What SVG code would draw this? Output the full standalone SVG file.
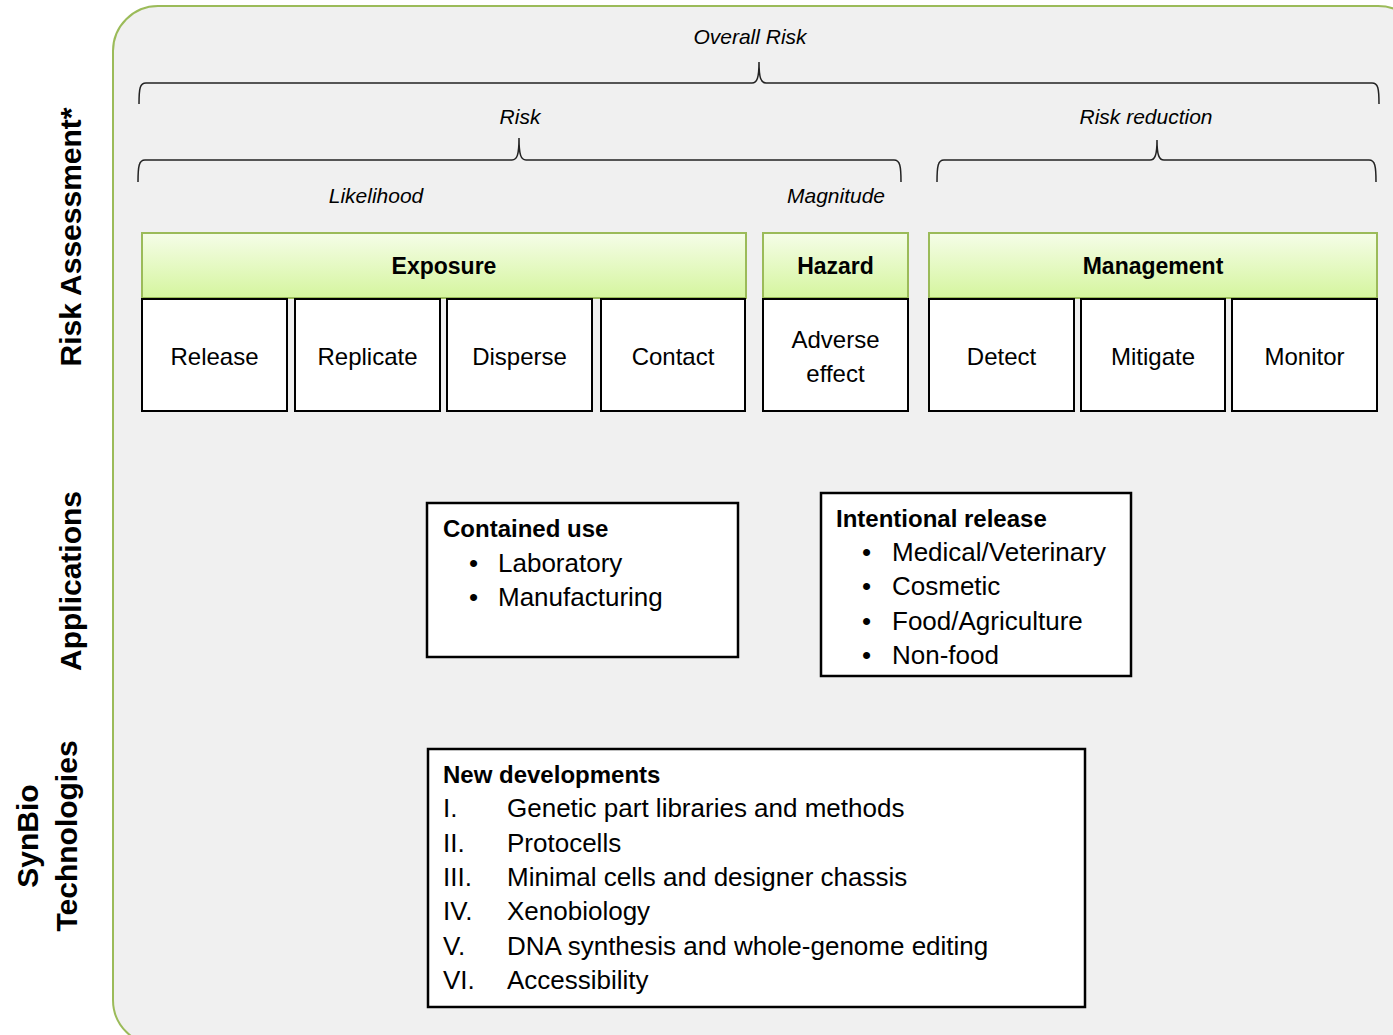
<svg xmlns="http://www.w3.org/2000/svg" width="1393" height="1035" viewBox="0 0 1393 1035">
<style>
text{font-family:"Liberation Sans",Arial,sans-serif;fill:#000}
.lab{font-style:italic;font-size:21px;text-anchor:middle}
.side{font-weight:bold;font-size:30px;text-anchor:middle}
.hdr{fill:url(#g);stroke:#9bbb59;stroke-width:2}
.hdrt{font-weight:bold;font-size:23px;text-anchor:middle}
.cell{fill:#fff;stroke:#000;stroke-width:2}
.cellt{font-size:24px;text-anchor:middle}
.box{fill:#fff;stroke:#000;stroke-width:2.5}
.bt{font-weight:bold;font-size:24px}
.it{font-size:26px}
.brace{fill:none;stroke:#222;stroke-width:1.5}
</style>
<defs>
<linearGradient id="g" x1="0" y1="0" x2="0" y2="1">
<stop offset="0" stop-color="#f5fde8"/>
<stop offset="1" stop-color="#d5f59e"/>
</linearGradient>
</defs>
<rect x="113" y="6" width="1310" height="1039" rx="45" ry="45" fill="#f0f0f0" stroke="#9bbb59" stroke-width="2"/>
<g id="side-labels">
<text class="side" transform="translate(81,237) rotate(-90)">Risk Assessment*</text>
<text class="side" transform="translate(81,581) rotate(-90)">Applications</text>
<text class="side" transform="translate(38,836) rotate(-90)">SynBio</text>
<text class="side" transform="translate(77,836) rotate(-90)">Technologies</text>
</g>
<g id="braces">
<path class="brace" d="M139,104 C139,88 140,83 146,83 L752,83 C757,83 759,78 759,62 C759,78 761,83 766,83 L1372,83 C1378,83 1379,88 1379,104"/>
<path class="brace" d="M138,182 C138,166 139,160 145,160 L512,160 C517,160 519,155 519,138 C519,155 521,160 526,160 L894,160 C900,160 901,166 901,182"/>
<path class="brace" d="M937,182 C937,166 938,160 944,160 L1150,160 C1155,160 1157,155 1157,140 C1157,155 1159,160 1164,160 L1369,160 C1375,160 1376,166 1376,182"/>
<text class="lab" x="750" y="44">Overall Risk</text>
<text class="lab" x="520" y="124">Risk</text>
<text class="lab" x="1146" y="124">Risk reduction</text>
<text class="lab" x="376" y="203">Likelihood</text>
<text class="lab" x="836" y="203">Magnitude</text>
</g>
<g id="exposure"><rect class="hdr" x="142" y="233" width="604" height="65"/><text class="hdrt" x="444" y="274">Exposure</text></g>
<g id="hazard"><rect class="hdr" x="763" y="233" width="145" height="65"/><text class="hdrt" x="835.5" y="274">Hazard</text></g>
<g id="management"><rect class="hdr" x="929" y="233" width="448" height="65"/><text class="hdrt" x="1153" y="274">Management</text></g>
<g id="release"><rect class="cell" x="142" y="299" width="145" height="112"/><text class="cellt" x="214.5" y="365">Release</text></g>
<g id="replicate"><rect class="cell" x="295" y="299" width="145" height="112"/><text class="cellt" x="367.5" y="365">Replicate</text></g>
<g id="disperse"><rect class="cell" x="447" y="299" width="145" height="112"/><text class="cellt" x="519.5" y="365">Disperse</text></g>
<g id="contact"><rect class="cell" x="601" y="299" width="144" height="112"/><text class="cellt" x="673" y="365">Contact</text></g>
<g id="adverse"><rect class="cell" x="763" y="299" width="145" height="112"/><text class="cellt" x="835.5" y="348">Adverse</text><text class="cellt" x="835.5" y="382">effect</text></g>
<g id="detect"><rect class="cell" x="929" y="299" width="145" height="112"/><text class="cellt" x="1001.5" y="365">Detect</text></g>
<g id="mitigate"><rect class="cell" x="1081" y="299" width="144" height="112"/><text class="cellt" x="1153" y="365">Mitigate</text></g>
<g id="monitor"><rect class="cell" x="1232" y="299" width="145" height="112"/><text class="cellt" x="1304.5" y="365">Monitor</text></g>
<g id="contained"><rect class="box" x="427" y="503" width="311" height="154"/>
<text class="bt" x="443" y="537">Contained use</text>
<text class="it" x="469" y="572">•</text><text class="it" x="498" y="572">Laboratory</text>
<text class="it" x="469" y="606">•</text><text class="it" x="498" y="606">Manufacturing</text>
</g>
<g id="intentional"><rect class="box" x="821" y="493" width="310" height="183"/>
<text class="bt" x="836" y="527">Intentional release</text>
<text class="it" x="862" y="561">•</text><text class="it" x="892" y="561">Medical/Veterinary</text>
<text class="it" x="862" y="595">•</text><text class="it" x="892" y="595">Cosmetic</text>
<text class="it" x="862" y="630">•</text><text class="it" x="892" y="630">Food/Agriculture</text>
<text class="it" x="862" y="664">•</text><text class="it" x="892" y="664">Non-food</text>
</g>
<g id="newdev"><rect class="box" x="428" y="749" width="657" height="258"/>
<text class="bt" x="443" y="783">New developments</text>
<text class="it" x="443" y="817">I.</text><text class="it" x="507" y="817">Genetic part libraries and methods</text>
<text class="it" x="443" y="852">II.</text><text class="it" x="507" y="852">Protocells</text>
<text class="it" x="443" y="886">III.</text><text class="it" x="507" y="886">Minimal cells and designer chassis</text>
<text class="it" x="443" y="920">IV.</text><text class="it" x="507" y="920">Xenobiology</text>
<text class="it" x="443" y="955">V.</text><text class="it" x="507" y="955">DNA synthesis and whole-genome editing</text>
<text class="it" x="443" y="989">VI.</text><text class="it" x="507" y="989">Accessibility</text>
</g>
</svg>
